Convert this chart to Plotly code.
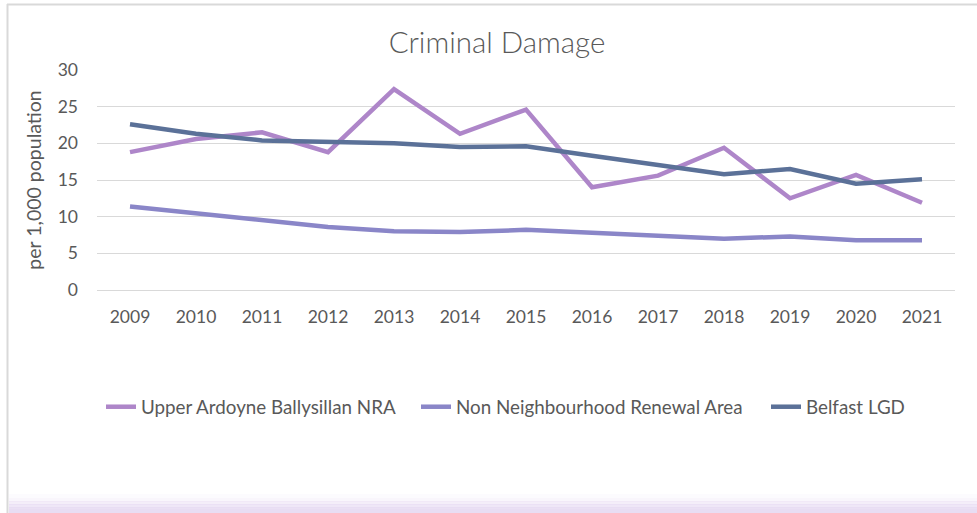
import plotly.graph_objects as go

# Years and rates of criminal damage per 1,000 population
years = ["2009", "2010", "2011", "2012", "2013", "2014", "2015",
         "2016", "2017", "2018", "2019", "2020", "2021"]
upper_ardoyne = [18.8, 20.6, 21.5, 18.8, 27.4, 21.3, 24.6,
                 14.0, 15.6, 19.4, 12.5, 15.7, 11.9]
non_nra = [11.4, 10.5, 9.5, 8.6, 8.0, 7.9, 8.2,
           7.8, 7.3, 7.0, 7.3, 6.8, 6.8]
belfast_lgd = [22.6, 21.3, 20.4, 20.2, 20.0, 19.5, 19.6,
               18.3, 17.1, 15.8, 16.5, 14.5, 15.1]

series_names = ["Upper Ardoyne Ballysillan NRA",
                "Non Neighbourhood Renewal Area",
                "Belfast LGD"]
series_colors = ["#AE86C9", "#8A86C8", "#5B7198"]
legend_ids = ["legend", "legend2", "legend3"]
legend_left_px = [101, 416, 766]

W, H = 977, 513
L, R, T, B = 97, 22, 70, 223
FONT = "Lato"
TXT = "#595959"

fig = go.Figure()
for name, vals, col, lid in zip(series_names, [upper_ardoyne, non_nra, belfast_lgd],
                                series_colors, legend_ids):
    fig.add_trace(go.Scatter(
        x=years, y=vals, name=name, mode="lines", legend=lid,
        line=dict(color=col, width=4.5),
    ))

# helpers to place frame decorations in pixel terms
pw, ph = W - L - R, H - T - B
def px(x):
    return (x - L) / pw
def py(y):
    return (H - B - y) / ph

shapes = [
    # thin grey frame around the chart area
    dict(type="line", xref="paper", yref="paper",
         x0=px(7), x1=px(W + 5), y0=py(4.5), y1=py(4.5),
         line=dict(color="#D9D9D9", width=2)),
    dict(type="line", xref="paper", yref="paper",
         x0=px(7.5), x1=px(7.5), y0=py(4), y1=py(H + 5),
         line=dict(color="#D9D9D9", width=2)),
]
# soft lavender band fading in at the bottom edge
band_steps = [(494, 0.10), (498, 0.25), (501, 0.45), (504, 0.65), (507, 0.85)]
for y0, op in band_steps:
    shapes.append(dict(type="rect", xref="paper", yref="paper",
                       x0=px(9), x1=px(W + 5), y0=py(y0), y1=py(y0 + 4),
                       fillcolor="#E6DAF2", opacity=op, line=dict(width=0),
                       layer="below"))
shapes.append(dict(type="rect", xref="paper", yref="paper",
                   x0=px(9), x1=px(W + 5), y0=py(509), y1=py(H + 5),
                   fillcolor="#E8DDF3", line=dict(width=0), layer="below"))

legend_style = dict(orientation="h", xanchor="left", yanchor="middle",
                    y=py(407), font=dict(size=18.8, color=TXT),
                    itemwidth=30, bgcolor="rgba(0,0,0,0)")
legends = {lid: dict(legend_style, x=px(lx))
           for lid, lx in zip(legend_ids, legend_left_px)}

fig.update_layout(
    width=W, height=H,
    margin=dict(l=L, r=R, t=T, b=B),
    paper_bgcolor="white", plot_bgcolor="white",
    font=dict(family=FONT, color=TXT, size=18),
    title=dict(text="Criminal Damage", x=497 / W, xanchor="center",
               y=1 - 43 / H, yanchor="middle",
               font=dict(family=FONT, size=29.5, color="#595959", weight=300)),
    xaxis=dict(type="category", range=[-0.5, len(years) - 0.5],
               showgrid=False, showline=False, zeroline=False,
               ticks="", ticklabelstandoff=14,
               tickfont=dict(size=17.5, color=TXT)),
    yaxis=dict(range=[0, 30], dtick=5, tick0=0,
               showgrid=True, gridcolor="#D9D9D9", gridwidth=1,
               zeroline=True, zerolinecolor="#D9D9D9", zerolinewidth=1,
               showline=False, ticks="", ticklabelstandoff=18,
               tickfont=dict(size=17.5, color=TXT),
               title=dict(text="per 1,000 population", standoff=10,
                          font=dict(size=19.5, color=TXT))),
    shapes=shapes,
    showlegend=True,
    **legends,
)

fig.write_html("out.html")
